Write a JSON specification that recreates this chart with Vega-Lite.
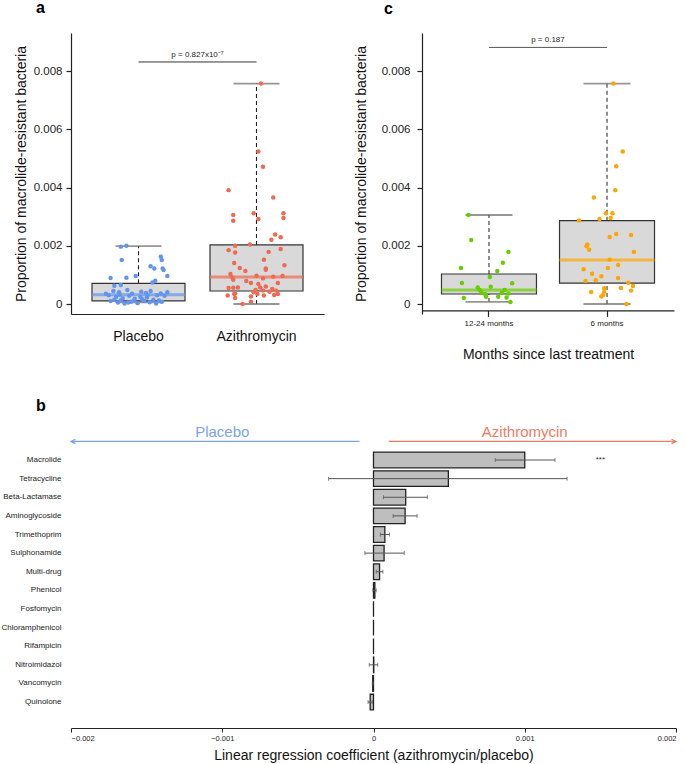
{
  "$schema": "https://vega.github.io/schema/vega-lite/v6.json",
  "background": "white",
  "padding": {"left": 0, "top": 0, "right": 6, "bottom": 0},
  "spacing": 36,
  "resolve": {"scale": {"color": "independent", "shape": "independent"}},
  "config": {
    "font": "Liberation Sans",
    "view": {"stroke": null},
    "axis": {"grid": false, "domainColor": "#222", "tickColor": "#222", "labelColor": "#222", "titleColor": "#111", "titleFontWeight": "normal", "labelFont": "Liberation Sans", "titleFont": "Liberation Sans"},
    "title": {"anchor": "start", "frame": "group", "fontSize": 16, "fontWeight": "bold", "color": "#000", "baseline": "alphabetic", "font": "Liberation Sans"}
  },
  "datasets": {
    "boxA": [
      {"g": "Placebo", "min": 0.00006, "q1": 0.00011, "med": 0.00032, "q3": 0.00071, "max": 0.00199},
      {"g": "Azithromycin", "min": 0, "q1": 0.000446, "med": 0.000927, "q3": 0.00203, "max": 0.00757}
    ],
    "boxC": [
      {"g": "12-24 months", "min": 0.00007, "q1": 0.000343, "med": 0.00048, "q3": 0.00103, "max": 0.003056},
      {"g": "6 months", "min": 0, "q1": 0.00072, "med": 0.00151, "q3": 0.00286, "max": 0.00757}
    ],
    "sigA": [{"from": "Placebo", "to": "Azithromycin", "y": 0.00831, "label": "p = 0.827x10⁻⁷"}],
    "sigC": [{"from": "12-24 months", "to": "6 months", "y": 0.00881, "label": "p = 0.187"}],
    "ptsA": [
      {"g":"Placebo","j":-0.19,"v":0.00197},{"g":"Placebo","j":-0.13,"v":0.002},{"g":"Placebo","j":-0.18,"v":0.00151},{"g":"Placebo","j":0.24,"v":0.00162},{"g":"Placebo","j":0.25,"v":0.00151},{"g":"Placebo","j":0.13,"v":0.0013},{"g":"Placebo","j":0.17,"v":0.00122},{"g":"Placebo","j":0.26,"v":0.00122},{"g":"Placebo","j":0.27,"v":0.00117},{"g":"Placebo","j":0.31,"v":0.00096},{"g":"Placebo","j":-0.3,"v":0.00089},{"g":"Placebo","j":-0.13,"v":0.0009},{"g":"Placebo","j":-0.03,"v":0.00096},{"g":"Placebo","j":0.18,"v":0.0008},{"g":"Placebo","j":0.15,"v":0.00074},{"g":"Placebo","j":-0.26,"v":0.00063},{"g":"Placebo","j":-0.19,"v":0.00065},{"g":"Placebo","j":-0.27,"v":0.00045},{"g":"Placebo","j":-0.21,"v":0.0004},{"g":"Placebo","j":-0.12,"v":0.00048},{"g":"Placebo","j":-0.07,"v":0.00035},{"g":"Placebo","j":0.03,"v":0.00042},{"g":"Placebo","j":0.08,"v":0.00038},{"g":"Placebo","j":0.13,"v":0.00045},{"g":"Placebo","j":0.2,"v":0.0003},{"g":"Placebo","j":0.24,"v":0.00036},{"g":"Placebo","j":0.28,"v":0.00028},{"g":"Placebo","j":-0.32,"v":0.0003},{"g":"Placebo","j":-0.24,"v":0.00025},{"g":"Placebo","j":-0.17,"v":0.0002},{"g":"Placebo","j":-0.1,"v":0.00028},{"g":"Placebo","j":-0.04,"v":0.00018},{"g":"Placebo","j":0.02,"v":0.00025},{"g":"Placebo","j":0.09,"v":0.00022},{"g":"Placebo","j":0.16,"v":0.00015},{"g":"Placebo","j":0.22,"v":0.00012},{"g":"Placebo","j":-0.3,"v":0.0001},{"g":"Placebo","j":-0.22,"v":0.00005},{"g":"Placebo","j":-0.15,"v":0.00002},{"g":"Placebo","j":-0.08,"v":0.00008},{"g":"Placebo","j":-0.01,"v":0.00003},{"g":"Placebo","j":0.06,"v":0.0001},{"g":"Placebo","j":0.12,"v":0.00006},{"g":"Placebo","j":0.19,"v":0.00002},{"g":"Placebo","j":0.25,"v":0.00008},{"g":"Placebo","j":-0.26,"v":0.00015},{"g":"Placebo","j":-0.19,"v":0.00012},{"g":"Placebo","j":-0.11,"v":0.00005},{"g":"Placebo","j":-0.05,"v":0.00011},{"g":"Placebo","j":0.04,"v":0.00016},{"g":"Placebo","j":0.1,"v":0.0003},{"g":"Placebo","j":-0.35,"v":0.00035},{"g":"Placebo","j":0.31,"v":0.0004},{"g":"Placebo","j":-0.2,"v":0.00032},
      {"g":"Azithromycin","j":0.05,"v":0.00757},{"g":"Azithromycin","j":0.02,"v":0.00524},{"g":"Azithromycin","j":0.07,"v":0.00471},{"g":"Azithromycin","j":-0.3,"v":0.00391},{"g":"Azithromycin","j":0.18,"v":0.00366},{"g":"Azithromycin","j":-0.25,"v":0.00306},{"g":"Azithromycin","j":-0.03,"v":0.00312},{"g":"Azithromycin","j":0.29,"v":0.00312},{"g":"Azithromycin","j":-0.25,"v":0.00286},{"g":"Azithromycin","j":0.02,"v":0.00292},{"g":"Azithromycin","j":0.29,"v":0.00295},{"g":"Azithromycin","j":0.2,"v":0.00239},{"g":"Azithromycin","j":0.16,"v":0.00221},{"g":"Azithromycin","j":0.26,"v":0.00229},{"g":"Azithromycin","j":-0.23,"v":0.002},{"g":"Azithromycin","j":-0.07,"v":0.00204},{"g":"Azithromycin","j":-0.3,"v":0.00185},{"g":"Azithromycin","j":-0.23,"v":0.00177},{"g":"Azithromycin","j":0.26,"v":0.00189},{"g":"Azithromycin","j":0.13,"v":0.00179},{"g":"Azithromycin","j":0.08,"v":0.00152},{"g":"Azithromycin","j":-0.24,"v":0.00141},{"g":"Azithromycin","j":0.3,"v":0.00133},{"g":"Azithromycin","j":-0.18,"v":0.00124},{"g":"Azithromycin","j":0.1,"v":0.00122},{"g":"Azithromycin","j":0.1,"v":0.00118},{"g":"Azithromycin","j":-0.12,"v":0.00113},{"g":"Azithromycin","j":-0.28,"v":0.00103},{"g":"Azithromycin","j":-0.26,"v":0.00091},{"g":"Azithromycin","j":0.0,"v":0.00097},{"g":"Azithromycin","j":0.18,"v":0.00094},{"g":"Azithromycin","j":0.28,"v":0.00096},{"g":"Azithromycin","j":-0.25,"v":0.00083},{"g":"Azithromycin","j":-0.11,"v":0.00079},{"g":"Azithromycin","j":0.07,"v":0.00088},{"g":"Azithromycin","j":-0.06,"v":0.00072},{"g":"Azithromycin","j":0.23,"v":0.00072},{"g":"Azithromycin","j":-0.3,"v":0.00055},{"g":"Azithromycin","j":-0.25,"v":0.00056},{"g":"Azithromycin","j":-0.2,"v":0.00057},{"g":"Azithromycin","j":0.02,"v":0.00069},{"g":"Azithromycin","j":0.04,"v":0.00057},{"g":"Azithromycin","j":0.1,"v":0.0006},{"g":"Azithromycin","j":0.17,"v":0.00052},{"g":"Azithromycin","j":0.21,"v":0.00046},{"g":"Azithromycin","j":-0.01,"v":0.00048},{"g":"Azithromycin","j":-0.03,"v":0.0004},{"g":"Azithromycin","j":-0.31,"v":0.00029},{"g":"Azithromycin","j":-0.24,"v":0.00034},{"g":"Azithromycin","j":-0.23,"v":0.00021},{"g":"Azithromycin","j":-0.06,"v":0.00026},{"g":"Azithromycin","j":0.08,"v":0.00029},{"g":"Azithromycin","j":0.19,"v":0.00031},{"g":"Azithromycin","j":0.23,"v":0.00034},{"g":"Azithromycin","j":0.01,"v":0.00034},{"g":"Azithromycin","j":-0.23,"v":0.00036},{"g":"Azithromycin","j":0.14,"v":0.00042},{"g":"Azithromycin","j":-0.15,"v":0.0},{"g":"Azithromycin","j":-0.06,"v":0.00008},{"g":"Azithromycin","j":0.07,"v":0.00046}
    ],
    "ptsC": [
      {"g":"12-24 months","j":-0.21,"v":0.00306},{"g":"12-24 months","j":-0.18,"v":0.0022},{"g":"12-24 months","j":0.22,"v":0.00179},{"g":"12-24 months","j":0.16,"v":0.00142},{"g":"12-24 months","j":0.1,"v":0.00113},{"g":"12-24 months","j":-0.29,"v":0.00124},{"g":"12-24 months","j":0.02,"v":0.00093},{"g":"12-24 months","j":-0.28,"v":0.00072},{"g":"12-24 months","j":0.26,"v":0.00071},{"g":"12-24 months","j":-0.11,"v":0.00057},{"g":"12-24 months","j":0.03,"v":0.00059},{"g":"12-24 months","j":-0.09,"v":0.00048},{"g":"12-24 months","j":-0.07,"v":0.00039},{"g":"12-24 months","j":-0.03,"v":0.00034},{"g":"12-24 months","j":0.18,"v":0.00048},{"g":"12-24 months","j":0.15,"v":0.00039},{"g":"12-24 months","j":0.11,"v":0.00025},{"g":"12-24 months","j":-0.02,"v":0.00025},{"g":"12-24 months","j":0.22,"v":0.00036},{"g":"12-24 months","j":-0.26,"v":0.00021},{"g":"12-24 months","j":0.2,"v":0.00022},{"g":"12-24 months","j":0.24,"v":0.00007},
      {"g":"6 months","j":0.08,"v":0.00757},{"g":"6 months","j":0.18,"v":0.00524},{"g":"6 months","j":0.11,"v":0.00473},{"g":"6 months","j":0.1,"v":0.00391},{"g":"6 months","j":-0.13,"v":0.00366},{"g":"6 months","j":0.0,"v":0.00312},{"g":"6 months","j":0.07,"v":0.00312},{"g":"6 months","j":0.05,"v":0.00295},{"g":"6 months","j":-0.07,"v":0.00292},{"g":"6 months","j":-0.29,"v":0.00287},{"g":"6 months","j":0.11,"v":0.0024},{"g":"6 months","j":0.04,"v":0.0023},{"g":"6 months","j":0.27,"v":0.00237},{"g":"6 months","j":-0.2,"v":0.00204},{"g":"6 months","j":-0.21,"v":0.00198},{"g":"6 months","j":-0.18,"v":0.00186},{"g":"6 months","j":0.3,"v":0.00179},{"g":"6 months","j":0.04,"v":0.00152},{"g":"6 months","j":0.13,"v":0.00134},{"g":"6 months","j":-0.24,"v":0.00119},{"g":"6 months","j":0.02,"v":0.00124},{"g":"6 months","j":-0.15,"v":0.00104},{"g":"6 months","j":-0.05,"v":0.00095},{"g":"6 months","j":0.13,"v":0.00089},{"g":"6 months","j":-0.11,"v":0.00082},{"g":"6 months","j":-0.22,"v":0.00079},{"g":"6 months","j":0.24,"v":0.00073},{"g":"6 months","j":0.29,"v":0.00062},{"g":"6 months","j":0.16,"v":0.00055},{"g":"6 months","j":0.27,"v":0.00046},{"g":"6 months","j":-0.02,"v":0.00054},{"g":"6 months","j":-0.02,"v":0.00041},{"g":"6 months","j":-0.16,"v":0.00041},{"g":"6 months","j":-0.03,"v":0.00031},{"g":"6 months","j":-0.05,"v":0.00026},{"g":"6 months","j":0.22,"v":0.0}
    ],
    "coef": [
      {"cls": "Macrolide", "coef": 0.001, "lo": 0.000805, "hi": 0.0012, "sig": "***"},
      {"cls": "Tetracycline", "coef": 0.000495, "lo": -0.000297, "hi": 0.00128, "sig": ""},
      {"cls": "Beta-Lactamase", "coef": 0.000213, "lo": 0.000066, "hi": 0.000356, "sig": ""},
      {"cls": "Aminoglycoside", "coef": 0.000209, "lo": 0.00013, "hi": 0.000288, "sig": ""},
      {"cls": "Trimethoprim", "coef": 0.000075, "lo": 0.000046, "hi": 0.000106, "sig": ""},
      {"cls": "Sulphonamide", "coef": 0.00007, "lo": -0.000057, "hi": 0.000203, "sig": ""},
      {"cls": "Multi-drug", "coef": 0.00004, "lo": 0.000018, "hi": 0.000062, "sig": ""},
      {"cls": "Phenicol", "coef": 0.000009, "lo": -0.000004, "hi": 0.000018, "sig": ""},
      {"cls": "Fosfomycin", "coef": 0, "lo": null, "hi": null, "sig": ""},
      {"cls": "Chloramphenicol", "coef": 0, "lo": null, "hi": null, "sig": ""},
      {"cls": "Rifampicin", "coef": 0, "lo": null, "hi": null, "sig": ""},
      {"cls": "Nitroimidazol", "coef": 0.000002, "lo": -0.000028, "hi": 0.000028, "sig": ""},
      {"cls": "Vancomycin", "coef": -0.000005, "lo": -0.000008, "hi": -0.000002, "sig": ""},
      {"cls": "Quinolone", "coef": -0.000022, "lo": -0.000036, "hi": -0.000008, "sig": ""}
    ],
    "arrows": [
      {"side": "Placebo", "row": "hdr", "from": -0.0000924, "to": -0.002, "mid": -0.001},
      {"side": "Azithromycin", "row": "hdr", "from": 0.0001, "to": 0.002, "mid": 0.001}
    ]
  },
  "vconcat": [
    {
      "bounds": "flush",
      "spacing": 98,
      "resolve": {"scale": {"color": "independent"}},
      "hconcat": [
        {
          "width": 253,
          "height": 281,
          "title": {"text": "a", "dx": -35, "offset": 17},
          "layer": [
            {
              "data": {"name": "boxA"},
              "mark": {"type": "rule", "strokeDash": [4, 3], "color": "#222", "strokeWidth": 1.1},
              "encoding": {
                "x": {"field": "g", "type": "nominal", "scale": {"type": "band", "domain": ["Placebo", "Azithromycin"], "paddingInner": 0.212, "paddingOuter": 0.178}, "axis": {"title": null, "labelAngle": 0, "ticks": false, "tickSize": 0, "labelFontSize": 14, "labelPadding": 15, "domainWidth": 1.2, "labelColor": "#111"}},
                "y": {"field": "q3", "type": "quantitative", "scale": {"domain": [-0.000343, 0.009305], "nice": false, "zero": false}, "axis": {"values": [0, 0.002, 0.004, 0.006, 0.008], "labelExpr": "datum.value == 0 ? '0' : format(datum.value, '.3f')", "title": "Proportion of macrolide-resistant bacteria", "titleFontSize": 14, "labelFontSize": 11.5, "tickSize": 5, "labelPadding": 4, "titlePadding": 5, "domainWidth": 1.2, "tickWidth": 1.2}},
                "y2": {"field": "max"}
              }
            },
            {
              "data": {"name": "boxA"},
              "mark": {"type": "rule", "strokeDash": [4, 3], "color": "#222", "strokeWidth": 1.1},
              "encoding": {"x": {"field": "g", "type": "nominal"}, "y": {"field": "min", "type": "quantitative"}, "y2": {"field": "q1"}}
            },
            {
              "data": {"name": "boxA"},
              "mark": {"type": "tick", "size": 46, "thickness": 1.8, "color": "#6a6a6a"},
              "encoding": {"x": {"field": "g", "type": "nominal"}, "y": {"field": "max", "type": "quantitative"}}
            },
            {
              "data": {"name": "boxA"},
              "mark": {"type": "tick", "size": 46, "thickness": 1.8, "color": "#6a6a6a"},
              "encoding": {"x": {"field": "g", "type": "nominal"}, "y": {"field": "min", "type": "quantitative"}}
            },
            {
              "data": {"name": "boxA"},
              "mark": {"type": "bar", "fill": "#d9d9d9", "stroke": "#333", "strokeWidth": 1.2, "width": 93},
              "encoding": {"x": {"field": "g", "type": "nominal"}, "y": {"field": "q1", "type": "quantitative"}, "y2": {"field": "q3"}}
            },
            {
              "data": {"name": "boxA"},
              "mark": {"type": "tick", "size": 93, "thickness": 3},
              "encoding": {"x": {"field": "g", "type": "nominal"}, "y": {"field": "med", "type": "quantitative"}, "color": {"field": "g", "type": "nominal", "scale": {"domain": ["Placebo", "Azithromycin"], "range": ["#6495ed", "#ee6a50"]}, "legend": null}}
            },
            {
              "data": {"name": "ptsA"},
              "mark": {"type": "circle", "size": 20, "opacity": 1},
              "encoding": {
                "x": {"field": "g", "type": "nominal"},
                "xOffset": {"field": "j", "type": "quantitative", "scale": {"domain": [-0.5, 0.5]}},
                "y": {"field": "v", "type": "quantitative"},
                "color": {"field": "g", "type": "nominal", "legend": null}
              }
            },
            {
              "data": {"name": "sigA"},
              "mark": {"type": "rule", "color": "#333", "strokeWidth": 1},
              "encoding": {"x": {"field": "from", "type": "nominal"}, "x2": {"field": "to"}, "y": {"field": "y", "type": "quantitative"}}
            },
            {
              "data": {"name": "sigA"},
              "mark": {"type": "text", "fontSize": 8, "baseline": "bottom", "dy": -3, "dx": 59, "color": "#222"},
              "encoding": {"x": {"field": "from", "type": "nominal"}, "y": {"field": "y", "type": "quantitative"}, "text": {"field": "label"}}
            }
          ]
        },
        {
          "width": 252,
          "height": 281,
          "title": {"text": "c", "dx": -38, "offset": 16},
          "layer": [
            {
              "data": {"name": "boxC"},
              "mark": {"type": "rule", "strokeDash": [4, 3], "color": "#333", "strokeWidth": 1.1},
              "encoding": {
                "x": {"field": "g", "type": "nominal", "scale": {"type": "band", "domain": ["12-24 months", "6 months"], "paddingInner": 0.195, "paddingOuter": 0.165}, "axis": {"title": "Months since last treatment", "titleFontSize": 14, "labelAngle": 0, "labelFontSize": 8, "tickSize": 6, "labelPadding": 3, "titlePadding": 20, "domainWidth": 1.2, "tickWidth": 1.2, "offset": -3.6}},
                "y": {"field": "q3", "type": "quantitative", "scale": {"domain": [-0.000343, 0.009305], "nice": false, "zero": false}, "axis": {"values": [0, 0.002, 0.004, 0.006, 0.008], "labelExpr": "datum.value == 0 ? '0' : format(datum.value, '.3f')", "title": "Proportion of macrolide-resistant bacteria", "titleFontSize": 14, "labelFontSize": 11.5, "tickSize": 5, "labelPadding": 7, "titlePadding": 13, "domainWidth": 1.2, "tickWidth": 1.2}},
                "y2": {"field": "max"}
              }
            },
            {
              "data": {"name": "boxC"},
              "mark": {"type": "rule", "strokeDash": [4, 3], "color": "#333", "strokeWidth": 1.1},
              "encoding": {"x": {"field": "g", "type": "nominal"}, "y": {"field": "min", "type": "quantitative"}, "y2": {"field": "q1"}}
            },
            {
              "data": {"name": "boxC"},
              "mark": {"type": "tick", "size": 47, "thickness": 1.8, "color": "#6a6a6a"},
              "encoding": {"x": {"field": "g", "type": "nominal"}, "y": {"field": "max", "type": "quantitative"}}
            },
            {
              "data": {"name": "boxC"},
              "mark": {"type": "tick", "size": 47, "thickness": 1.8, "color": "#6a6a6a"},
              "encoding": {"x": {"field": "g", "type": "nominal"}, "y": {"field": "min", "type": "quantitative"}}
            },
            {
              "data": {"name": "boxC"},
              "mark": {"type": "bar", "fill": "#d9d9d9", "stroke": "#333", "strokeWidth": 1.2, "width": 95},
              "encoding": {"x": {"field": "g", "type": "nominal"}, "y": {"field": "q1", "type": "quantitative"}, "y2": {"field": "q3"}}
            },
            {
              "data": {"name": "boxC"},
              "mark": {"type": "tick", "size": 95, "thickness": 3},
              "encoding": {"x": {"field": "g", "type": "nominal"}, "y": {"field": "med", "type": "quantitative"}, "color": {"field": "g", "type": "nominal", "scale": {"domain": ["12-24 months", "6 months"], "range": ["#66cd00", "#ffa500"]}, "legend": null}}
            },
            {
              "data": {"name": "ptsC"},
              "mark": {"type": "circle", "size": 20, "opacity": 1},
              "encoding": {
                "x": {"field": "g", "type": "nominal"},
                "xOffset": {"field": "j", "type": "quantitative", "scale": {"domain": [-0.5, 0.5]}},
                "y": {"field": "v", "type": "quantitative"},
                "color": {"field": "g", "type": "nominal", "legend": null}
              }
            },
            {
              "data": {"name": "sigC"},
              "mark": {"type": "rule", "color": "#555", "strokeWidth": 1},
              "encoding": {"x": {"field": "from", "type": "nominal"}, "x2": {"field": "to"}, "y": {"field": "y", "type": "quantitative"}}
            },
            {
              "data": {"name": "sigC"},
              "mark": {"type": "text", "fontSize": 8, "baseline": "bottom", "dy": -3, "dx": 59, "color": "#222"},
              "encoding": {"x": {"field": "from", "type": "nominal"}, "y": {"field": "y", "type": "quantitative"}, "text": {"field": "label"}}
            }
          ]
        }
      ]
    },
    {
      "width": 605,
      "height": 306,
      "title": {"text": "b", "dx": -35, "offset": 8},
      "layer": [
        {
          "data": {"name": "arrows"},
          "mark": {"type": "rule", "strokeWidth": 1.2},
          "encoding": {
            "y": {"field": "row", "type": "nominal", "scale": {"type": "band", "domain": ["hdr", "Macrolide", "Tetracycline", "Beta-Lactamase", "Aminoglycoside", "Trimethoprim", "Sulphonamide", "Multi-drug", "Phenicol", "Fosfomycin", "Chloramphenicol", "Rifampicin", "Nitroimidazol", "Vancomycin", "Quinolone"], "paddingInner": 0, "paddingOuter": 0.717, "align": 0.378}, "axis": {"title": null, "domain": false, "ticks": false, "tickSize": 0, "labelPadding": 10, "labelFontSize": 8, "labelColor": "#222", "labelExpr": "datum.value == 'hdr' ? '' : datum.value"}},
            "x": {"field": "from", "type": "quantitative", "scale": {"domain": [-0.002, 0.002], "nice": false, "zero": false}, "axis": {"values": [-0.002, -0.001, 0, 0.001, 0.002], "labelExpr": "datum.value == 0 ? '0' : format(datum.value, '.3f')", "labelFontSize": 7.5, "tickSize": 4, "labelPadding": 2, "title": "Linear regression coefficient (azithromycin/placebo)", "titleFontSize": 14, "titlePadding": 7, "domainWidth": 1.1}},
            "x2": {"field": "to"},
            "color": {"field": "side", "type": "nominal", "scale": {"domain": ["Placebo", "Azithromycin"], "range": ["#7aa3ea", "#ef7b65"]}, "legend": null}
          }
        },
        {
          "data": {"name": "arrows"},
          "mark": {"type": "point", "size": 20, "filled": false, "strokeWidth": 1.2, "opacity": 1},
          "encoding": {
            "y": {"field": "row", "type": "nominal"},
            "x": {"field": "to", "type": "quantitative"},
            "shape": {"field": "side", "type": "nominal", "scale": {"domain": ["Placebo", "Azithromycin"], "range": ["M 2 -1 L 0 0 L 2 1", "M -2 -1 L 0 0 L -2 1"]}, "legend": null},
            "color": {"field": "side", "type": "nominal", "legend": null}
          }
        },
        {
          "data": {"name": "arrows"},
          "mark": {"type": "text", "fontSize": 15, "dy": -9},
          "encoding": {
            "y": {"field": "row", "type": "nominal"},
            "x": {"field": "mid", "type": "quantitative"},
            "text": {"field": "side"},
            "color": {"field": "side", "type": "nominal", "legend": null}
          }
        },
        {
          "data": {"name": "coef"},
          "mark": {"type": "bar", "fill": "#bebebe", "stroke": "#222", "strokeWidth": 1.3, "height": {"band": 0.84}},
          "encoding": {"y": {"field": "cls", "type": "nominal"}, "x": {"field": "coef", "type": "quantitative"}}
        },
        {
          "data": {"name": "coef"},
          "mark": {"type": "rule", "color": "#555", "strokeWidth": 1},
          "encoding": {"y": {"field": "cls", "type": "nominal"}, "x": {"field": "lo", "type": "quantitative"}, "x2": {"field": "hi"}}
        },
        {
          "data": {"name": "coef"},
          "mark": {"type": "tick", "size": 4, "thickness": 1, "color": "#555"},
          "encoding": {"y": {"field": "cls", "type": "nominal"}, "x": {"field": "lo", "type": "quantitative"}}
        },
        {
          "data": {"name": "coef"},
          "mark": {"type": "tick", "size": 4, "thickness": 1, "color": "#555"},
          "encoding": {"y": {"field": "cls", "type": "nominal"}, "x": {"field": "hi", "type": "quantitative"}}
        },
        {
          "data": {"name": "coef"},
          "mark": {"type": "text", "fontSize": 8, "color": "#333"},
          "encoding": {"y": {"field": "cls", "type": "nominal"}, "x": {"datum": 0.0015}, "text": {"field": "sig"}}
        },
        {
          "mark": {"type": "rule", "color": "#222", "strokeWidth": 1.2},
          "encoding": {"x": {"datum": 0}}
        }
      ]
    }
  ]
}
